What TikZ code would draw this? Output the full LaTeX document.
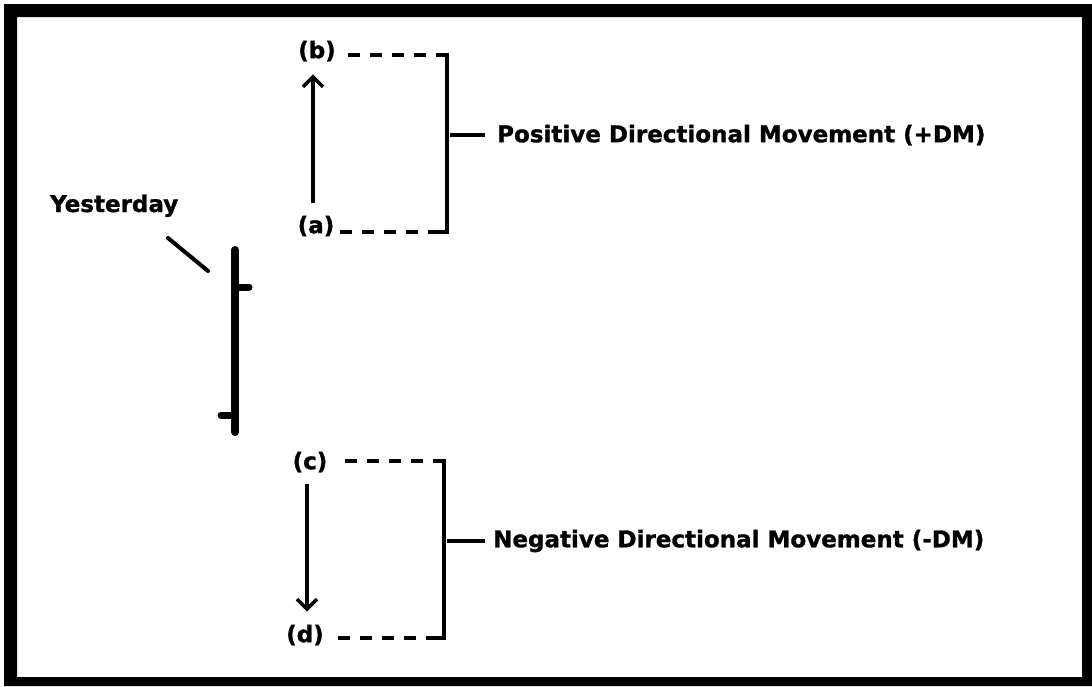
\documentclass[tikz,border=0pt]{standalone}
\usepackage{fontspec}
\setmainfont{DejaVu Sans}[BoldFeatures={FakeBold=1.2}]
\usetikzlibrary{arrows.meta}
\begin{document}
\begin{tikzpicture}[x=1pt,y=-1pt,
  lbl/.style={font=\fontsize{23}{27}\selectfont\bfseries, inner sep=0pt},
  thin line/.style={line width=4pt},
  dashline/.style={line width=4pt, dash pattern=on 12pt off 10pt},
  arr/.style={line width=3.5pt, -{Straight Barb[length=10pt,width=20pt]}},
  barline/.style={line width=8pt, line cap=round},
  tickline/.style={line width=7pt, line cap=round}]
\useasboundingbox (0,0) rectangle (1092,686);
% frame
\fill[black, even odd rule] (4,4) rectangle (1092,686) (17,17) rectangle (1082,677);

% labels
\node[lbl] (b) at (317,51) {(b)};
\node[lbl] (a) at (316,226) {(a)};
\node[lbl] (c) at (310,462) {(c)};
\node[lbl] (d) at (305,635) {(d)};
\node[lbl, anchor=west] (pos) at (497,135) {Positive Directional Movement (+DM)};
\node[lbl, anchor=west] (neg) at (493,541) {Negative Directional Movement (-DM)};
\node[lbl, anchor=base west] (yest) at (50,212) {Yesterday};

% bracket corners
\coordinate (bt) at (447,55);
\coordinate (bb) at (447,232);
\coordinate (ct) at (444,461);
\coordinate (cb) at (444,638);
\coordinate (tp) at (447,135);
\coordinate (tn) at (444,541);

% top bracket
\draw[dashline] (348,55) -- ([xshift=-6pt]bt);
\draw[dashline] (340,232) -- ([xshift=-6pt]bb);
\draw[thin line, line join=miter] ([xshift=-7pt]bt) -- (bt) -- (bb) -- ([xshift=-7pt]bb);
\draw[thin line] ([xshift=3pt]tp) -- ([xshift=-12pt]pos.west |- tp);
\draw[arr] ([xshift=-3pt,yshift=13pt]a.north) -- ([xshift=-3pt,yshift=-13pt]a.north |- b.south);

% bottom bracket
\draw[dashline] (345,461) -- ([xshift=-6pt]ct);
\draw[dashline] (338,638) -- ([xshift=-6pt]cb);
\draw[thin line, line join=miter] ([xshift=-7pt]ct) -- (ct) -- (cb) -- ([xshift=-7pt]cb);
\draw[thin line] ([xshift=3pt]tn) -- ([xshift=-8pt]neg.west |- tn);
\draw[arr] ([xshift=-3pt,yshift=-12pt]c.south) -- ([xshift=-3pt,yshift=13pt]c.south |- d.north);

% yesterday bar
\coordinate (ytop) at (235,250);
\coordinate (ybot) at (235,432);
\draw[barline] (ytop) -- (ybot);
\draw[tickline] (235,287) -- (249,287);
\draw[tickline] (221,415) -- (235,415);
\coordinate (l1) at (168,238);
\coordinate (l2) at (208,271);
\draw[thin line, line cap=round] (l1) -- (l2);
\end{tikzpicture}
\end{document}
